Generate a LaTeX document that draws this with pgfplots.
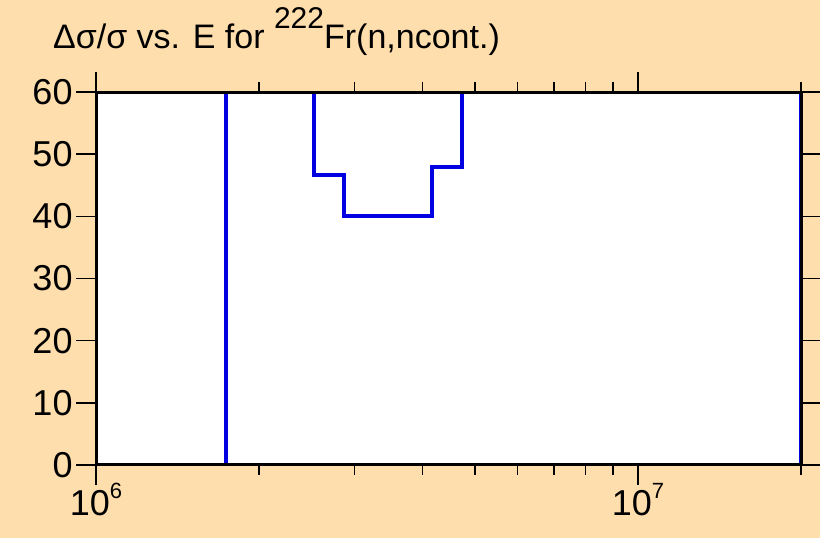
\documentclass[border=0pt]{standalone}
\usepackage{pgfplots}
\pgfplotsset{compat=1.18}
\usepackage{fontspec}
\setmainfont{Liberation Sans}
\definecolor{bgpeach}{RGB}{255,222,173}
\definecolor{stepblue}{RGB}{0,0,225}
% superscript for the title and for the decade labels
\newcommand{\titlesup}[1]{\raisebox{20pt}{\fontsize{30}{30}\selectfont #1}}
\newcommand{\decsup}[1]{\raisebox{17pt}{\fontsize{22}{22}\selectfont #1}}
\begin{document}
\begin{tikzpicture}[x=1pt,y=1pt]
\path[use as bounding box, fill=bgpeach] (0,0) rectangle (820,538);
\node[anchor=base west, inner sep=0pt, font=\fontsize{34}{34}\selectfont]
  at (53,489) {Δσ/σ vs. E for \titlesup{222}Fr(n,ncont.)};
\begin{axis}[
    at={(96pt,73pt)}, anchor=south west,
    scale only axis,
    width=705pt, height=373pt,
    xmode=log,
    xmin=1e6, xmax=2e7,
    ymin=0, ymax=60,
    xtick={1e6,1e7},
    xticklabels={10\decsup{6},10\decsup{7}},
    minor xtick={2e6,3e6,4e6,5e6,6e6,7e6,8e6,9e6,2e7},
    ytick={0,10,20,30,40,50,60},
    tick align=outside,
    xtick pos=both, ytick pos=both,
    xticklabel pos=bottom, yticklabel pos=left,
    major tick length=20pt, minor tick length=10pt,
    every tick/.style={black, line width=1.5pt},
    axis line style={line width=3pt},
    axis background/.style={fill=white},
    axis on top,
    ticklabel style={font=\fontsize{36}{36}\selectfont},
    xticklabel style={yshift=5pt},
    /pgf/number format/assume math mode=true,
]
\addplot[stepblue, line width=4pt, line join=miter] coordinates {
    (1.74e6,0) (1.74e6,60)
    (2.53e6,60) (2.53e6,46.7)
    (2.87e6,46.7) (2.87e6,40)
    (4.17e6,40) (4.17e6,48)
    (4.73e6,48) (4.73e6,60)
    (2e7,60) (2e7,0)
};
\end{axis}
\end{tikzpicture}
\end{document}
